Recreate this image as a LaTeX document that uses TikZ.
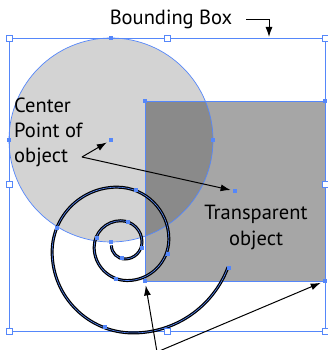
\documentclass[tikz,border=0pt]{standalone}
\usepackage{fontspec}
\setmainfont{PT Sans}
\usetikzlibrary{arrows.meta}
\definecolor{selblue}{RGB}{85,135,250}
\definecolor{circfill}{RGB}{211,211,211}
\definecolor{rectfill}{RGB}{166,166,166}
\definecolor{overfill}{RGB}{138,138,138}
\begin{document}
\begin{tikzpicture}[
  x=1pt, y=1pt,
  hollow/.style={draw=selblue, fill=white, line width=0.8pt, minimum size=6pt, inner sep=0pt},
  anchorpt/.style={fill=selblue, minimum size=4.5pt, inner sep=0pt},
  txt/.style={font=\fontsize{20.5}{24}\selectfont, inner sep=0pt},
  pointer/.style={-{Latex[length=10pt,width=7pt]}, line width=1pt}
]
  \useasboundingbox (0,0) rectangle (328,350);
  % circle and transparent square
  \fill[circfill] (111,210) circle[radius=102];
  \fill[rectfill] (145,69) rectangle (325,249);
  \begin{scope}
    \clip (111,210) circle[radius=102];
    \fill[overfill] (145,69) rectangle (325,249);
  \end{scope}
  \draw[selblue, line width=0.7pt] (111,210) circle[radius=102];
  \draw[selblue, line width=0.7pt] (145,69) rectangle (325,249);
  % bounding box
  \draw[selblue, line width=0.8pt] (9,19) rectangle (325,312);
  % spiral
  \draw[selblue, line width=0.6pt, preaction={draw=black, line width=3pt}]
    (111.4,104.6)
    arc[start angle=180, delta angle=90, radius=13.6]
    arc[start angle=270, delta angle=90, radius=17]
    arc[start angle=0,   delta angle=90, radius=21.25]
    arc[start angle=90,  delta angle=90, radius=26.6]
    arc[start angle=180, delta angle=90, radius=33.2]
    arc[start angle=270, delta angle=90, radius=41.5]
    arc[start angle=0,   delta angle=90, radius=51.9]
    arc[start angle=90,  delta angle=90, radius=64.8]
    arc[start angle=180, delta angle=90, radius=81]
    arc[start angle=270, delta angle=69.5, radius=101.3];
  % handles
  \foreach \p [count=\i] in {(9,19),(167,19),(325,19),(9,166),(325,166),(9,312),(167,312),(325,312)}
    \node[hollow] (bb\i) at \p {};
  \node[anchorpt] (cc) at (111,210) {};
  \foreach \p [count=\i] in {(111,312),(9,210),(213,210),(111,108)}
    \node[anchorpt] (cp\i) at \p {};
  \node[anchorpt] (rc) at (235,159) {};
  \node[anchorpt] (rtl) at (145,249) {};
  \node[anchorpt] (rtr) at (325,249) {};
  \node[anchorpt] (rbl) at (145,69) {};
  \node[anchorpt] (rbr) at (325,69) {};
  \foreach \p [count=\i] in {(122,92),(142,102),(128,128),(97,112),(116,71),(168,96),(136,160),(57,122),(105,23),(229,82)}
    \node[anchorpt] (sp\i) at \p {};
  % labels
  \node[txt, anchor=base] (bbtext) at (171,325) {Bounding Box};
  \node[txt, anchor=base west] (ctr1) at (14,237) {Center};
  \node[txt, anchor=base west] (ctr2) at (14,212) {Point of};
  \node[txt, anchor=base west] (ctr3) at (14,187) {object};
  \node[txt, anchor=base] (tr1) at (256,130) {Transparent};
  \node[txt, anchor=base] (tr2) at (256,104) {object};
  % pointers
  \coordinate (bbtail) at (246,330);
  \coordinate (bbtip) at (269,313);
  \draw[pointer] (bbtail) -| (bbtip);
  \coordinate (ctrptr) at (82,193);
  \draw[pointer, shorten >=2pt] (ctrptr) -- (cc);
  \draw[pointer, shorten >=2pt] (ctrptr) -- (rc);
  \coordinate (btm) at (157,-2);
  \draw[pointer, shorten >=2pt] (btm) -- (rbl);
  \draw[pointer, shorten >=2pt] (btm) -- (rbr);
\end{tikzpicture}
\end{document}
